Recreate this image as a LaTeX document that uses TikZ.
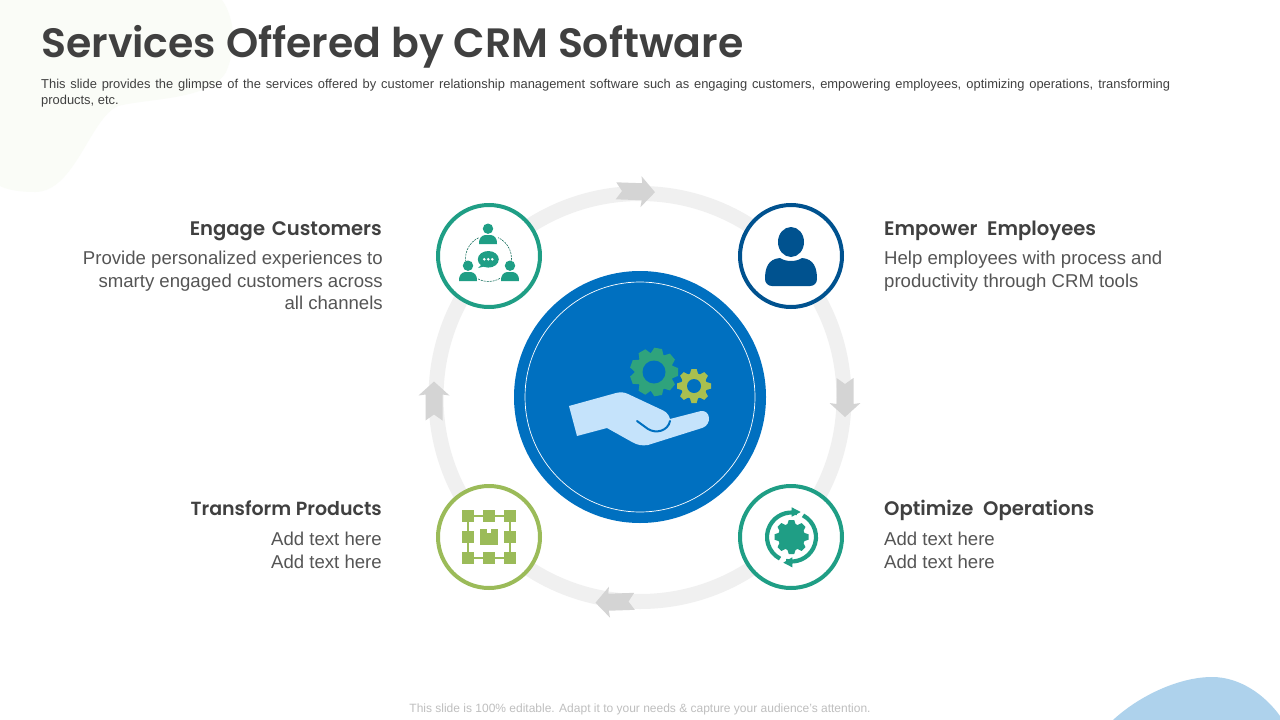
\documentclass[tikz,border=0pt]{standalone}
\usepackage{fontspec}
\setmainfont{Liberation Sans}
\newfontfamily\headfont[BoldFont={Poppins SemiBold}]{Poppins}
\definecolor{teal}{HTML}{1F9E85}
\definecolor{navy}{HTML}{00528F}
\definecolor{leaf}{HTML}{9BBB59}
\definecolor{ringgray}{HTML}{F0F0F0}
\definecolor{arrowgray}{HTML}{D4D4D4}
\definecolor{bigblue}{HTML}{0070C0}
\definecolor{handblue}{HTML}{C5E3FB}
\definecolor{txt}{HTML}{404040}
\definecolor{bodytxt}{HTML}{555555}
\definecolor{blobgreen}{HTML}{FAFCF7}
\definecolor{blobblue}{HTML}{AED2EC}
\definecolor{geargreen}{HTML}{2FA37C}
\definecolor{gearlime}{HTML}{A9BF4F}
\tikzset{
  x=1pt,y=-1pt,
  badge/.style={circle,draw=#1,line width=4pt,fill=white,minimum size=102pt,inner sep=0pt},
  heading/.style={font=\headfont\bfseries\fontsize{19.6}{24}\selectfont,text=txt,inner sep=0pt},
  copyL/.style={font=\fontsize{18.6}{22.6}\selectfont,text=bodytxt,inner sep=0pt,align=left,anchor=north west},
  copyR/.style={font=\fontsize{18.6}{22.6}\selectfont,text=bodytxt,inner sep=0pt,align=right,anchor=north east},
}
\newcommand{\ringarrow}[3]{%
  \begin{scope}[shift={(#1,#2)},rotate=#3]
    \fill[arrowgray] (19.5,0) -- (5.5,-15.5) -- (6.5,-8.5) -- (-19.5,-8.5) -- (-13.5,0) -- (-19.5,8.5) -- (6.5,8.5) -- (5.5,15.5) -- cycle;
  \end{scope}}
\newcommand{\geartool}[6]{% x y body tooth colour teeth
  \begin{scope}[shift={(#1,#2)}]
    \fill[#5] (0,0) circle[radius=#3];
    \foreach \k in {1,...,#6}{
      \begin{scope}[rotate=\k*360/#6]
        \fill[#5] (#3-2,-#3*0.34) -- (#4,-#3*0.2) -- (#4,#3*0.2) -- (#3-2,#3*0.34) -- cycle;
      \end{scope}}
  \end{scope}}
\newcommand{\minion}[3]{% x y colour : small person
  \fill[#3] (#1,#2-6.3) circle[radius=5.2];
  \fill[#3] (#1-9,#2+9) .. controls (#1-9.5,#2+3) and (#1-6,#2+0.5) .. (#1-3,#2)
     -- (#1+3,#2) .. controls (#1+6,#2+0.5) and (#1+9.5,#2+3) .. (#1+9,#2+9) -- cycle;}
\begin{document}
\begin{tikzpicture}
\useasboundingbox (0,0) rectangle (1280,720);
\fill[white] (0,0) rectangle (1280,720);
% background blobs
\fill[blobgreen] (0,0) -- (222,0) .. controls (236,20) and (236,50) .. (226,72)
  .. controls (210,100) and (150,98) .. (118,106)
  .. controls (90,118) and (75,192) .. (35,192)
  .. controls (20,192) and (8,190) .. (0,186) -- cycle;
\fill[blobblue] (1113,720) .. controls (1140,695) and (1180,677) .. (1212,677)
  .. controls (1240,677) and (1265,695) .. (1280,716) -- (1280,720) -- cycle;
% title
\node[anchor=base west,inner sep=0pt,font=\headfont\bfseries\fontsize{41}{48}\selectfont,text=txt] (title) at (41,57) {Services Offered by CRM Software};
\node[anchor=base west,inner sep=0pt,font=\fontsize{12.9}{16}\selectfont,text=txt] (sub1) at (41,88) {\hbox to 1129pt{This slide provides  the glimpse of the services offered  by customer relationship management software such as engaging customers, empowering  employees, optimizing operations, transforming}};
\node[anchor=base west,inner sep=0pt,font=\fontsize{12.9}{16}\selectfont,text=txt] (sub2) at (41,104) {products, etc.};
% ring
\draw[ringgray,line width=15pt] (640,397.5) circle[radius=204];
\ringarrow{635.5}{191.5}{-2}
\ringarrow{845}{397.5}{-90}
\ringarrow{615}{602}{182}
\ringarrow{434}{401}{90}
% central disc
\node[circle,fill=bigblue,minimum size=252pt,inner sep=0pt] (hub) at (640,397) {};
\draw[white,line width=0.7pt] (640,397) circle[radius=115];
% gears
\geartool{654}{372}{19.5}{24}{geargreen}{9}
\fill[bigblue] (654,372) circle[radius=11.5];
\geartool{694}{386}{13}{17}{gearlime}{8}
\fill[bigblue] (694,386) circle[radius=7];
% hand
\fill[handblue] (569,406) -- (577,436) -- (607,428) -- (632,442)
  .. controls (637,445) and (642,446) .. (648,445) -- (702,428)
  .. controls (712,425) and (711,410) .. (701,411) -- (670,419)
  .. controls (668,412) and (664,411) .. (660,409) -- (628,394)
  .. controls (624,392) and (620,392) .. (616,393) -- cycle;
\draw[bigblue,line width=2pt,line cap=round] (637,421) -- (648,429)
  .. controls (656,434) and (668,431) .. (670,421);
% badges
\node[badge=teal] (engage) at (489,256) {};
\node[badge=navy] (empower) at (791,256) {};
\node[badge=leaf] (transform) at (489,537) {};
\node[badge=teal] (optimize) at (791,537) {};
% engage icon
\draw[teal!70!black,line width=0.6pt,dash pattern=on 2pt off 1pt] (488.5,258.5) circle[radius=23];
\fill[white] (479,228) rectangle (498,245);
\fill[white] (458,262) rectangle (478,282);
\fill[white] (500,262) rectangle (520,282);
\minion{488}{235}{teal}
\minion{468}{272}{teal}
\minion{510}{272}{teal}
\fill[teal] (488.3,259.3) ellipse[x radius=10.5,y radius=8.3];
\fill[teal] (482,264) -- (478,268) -- (486,266) -- cycle;
\foreach \d in {-4,0,4}{\fill[white] (488.3+\d,259.3) circle[radius=1.4];}
% person icon
\fill[navy] (791,242) ellipse[x radius=13,y radius=15];
\fill[navy] (772,286) .. controls (768,286) and (765,283) .. (765,279)
  .. controls (765,268) and (768,259) .. (780,258)
  .. controls (786,262) and (796,262) .. (802,258)
  .. controls (814,259) and (817,268) .. (817,279)
  .. controls (817,283) and (814,286) .. (810,286) -- cycle;
% product icon
\draw[leaf,line width=2pt] (468,516) rectangle (510,558);
\foreach \px in {468,489,510}{\foreach \py in {516,537,558}{
  \ifnum\px=489 \ifnum\py=537 \else\fill[leaf] (\px-5.6,\py-5.6) rectangle (\px+5.6,\py+5.6);\fi
  \else\fill[leaf] (\px-5.6,\py-5.6) rectangle (\px+5.6,\py+5.6);\fi}}
\fill[leaf] (480,529) rectangle (498,545);
\fill[white] (487,529) rectangle (491,533);
% optimize icon
\geartool{791.5}{537}{13.5}{17}{teal}{8}
\draw[teal,line width=4.2pt] (791.5,537) ++(118:24.5) arc[start angle=118,end angle=283,radius=24.5];
\fill[teal] (791.7,507.3) -- (800.7,512) -- (791.7,516.7) -- cycle;
\draw[teal,line width=4.2pt] (791.5,537) ++(-62:24.5) arc[start angle=-62,end angle=103,radius=24.5];
\fill[teal] (783.3,562.7) -- (792.3,557.3) -- (792.3,567.3) -- cycle;
% labels
\node[heading,anchor=base east] (h1) at (382,235) {Engage\hspace{2pt} Customers};
\node[copyR] (b1) at (383,251) {Provide personalized experiences to\\smarty engaged customers across\\all channels};
\node[heading,anchor=base west] (h2) at (884,235) {Empower\hspace{5pt} Employees};
\node[copyL] (b2) at (884,251) {Help employees with process and\\productivity through CRM tools};
\node[heading,anchor=base east,font=\headfont\bfseries\fontsize{19}{24}\selectfont] (h3) at (382,515) {Transform Products};
\node[copyR] (b3) at (382,532) {Add text here\\Add text here};
\node[heading,anchor=base west] (h4) at (884,515) {Optimize\hspace{5pt} Operations};
\node[copyL] (b4) at (884,532) {Add text here\\Add text here};
% footer
\node[inner sep=0pt,anchor=base,font=\fontsize{12}{14}\selectfont,text=black!25] (foot) at (640,712) {This slide is 100\% editable. Adapt it to your needs \& capture your audience’s attention.};
\end{tikzpicture}
\end{document}
